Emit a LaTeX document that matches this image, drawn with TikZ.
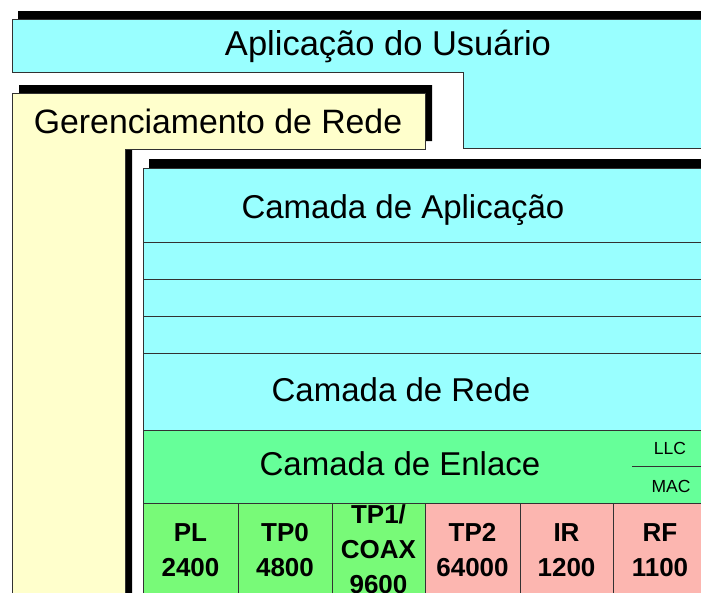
\documentclass[tikz,border=0pt]{standalone}
\usepackage{fontspec}
\setmainfont{Liberation Sans}
\definecolor{cyanbox}{RGB}{153,255,255}
\definecolor{yelbox}{RGB}{255,255,204}
\definecolor{greenband}{RGB}{102,255,153}
\definecolor{greencell}{RGB}{120,250,120}
\definecolor{pinkcell}{RGB}{252,182,176}
\definecolor{edge}{RGB}{50,50,50}
\tikzset{
  shade box/.style={fill=black},
  panel/.style={draw=edge, line width=1pt},
  title/.style={font=\fontsize{33}{36}\selectfont, inner sep=0pt, anchor=center},
  big title/.style={title, font=\fontsize{34.5}{38}\selectfont},
  cell/.style={font=\fontsize{26}{35}\selectfont\bfseries, align=center, inner sep=0pt, anchor=center},
  small/.style={font=\fontsize{17.5}{20}\selectfont, inner sep=0pt, anchor=center},
  grid/.style={draw=edge, line width=1pt}
}
\begin{document}
\begin{tikzpicture}[x=1pt,y=-1pt]
\clip (0,0) rectangle (701,592);
\fill[white] (0,0) rectangle (701,592);
% top L shape (Aplicacao do Usuario)
\fill[shade box] (18,11) -- (726,11) -- (726,140) -- (469,140) -- (469,64) -- (18,64) -- cycle;
\path[panel, fill=cyanbox] (12,19) -- (720,19) -- (720,148) -- (463,148) -- (463,72) -- (12,72) -- cycle;
\node[big title] (usuario) at (388,46) {Aplicação do Usuário};
% Gerenciamento L shape
\fill[shade box] (19,85) -- (432,85) -- (432,141) -- (132,141) -- (132,620) -- (19,620) -- cycle;
\path[panel, fill=yelbox] (12,93) -- (425,93) -- (425,149) -- (125,149) -- (125,620) -- (12,620) -- cycle;
\node[title, font=\fontsize{33.8}{37}\selectfont] (gerencia) at (218,121) {Gerenciamento de Rede};
% stack
\fill[shade box] (149,159) rectangle (730,620);
\path[panel, fill=cyanbox] (143,168) rectangle (730,620);
\draw[grid] (143,242) -- (730,242);
\draw[grid] (143,279) -- (730,279);
\draw[grid] (143,316) -- (730,316);
\draw[grid] (143,353) -- (730,353);
\path[grid, fill=greenband] (143,430) rectangle (730,503);
\path[grid, fill=greencell] (143,503) rectangle (425,620);
\path[grid, fill=pinkcell] (425,503) rectangle (730,620);
\draw[grid] (238,503) -- (238,620);
\draw[grid] (332,503) -- (332,620);
\draw[grid] (520,503) -- (520,620);
\draw[grid] (613,503) -- (613,620);
\draw[grid] (632,466) -- (730,466);
\node[title] (aplic) at (403,210) {Camada de Aplicação};
\node[title] (rede) at (401,390) {Camada de Rede};
\node[title] (enlace) at (400,464) {Camada de Enlace};
\node[small] (llc) at (670,448) {LLC};
\node[small] (mac) at (671,486) {MAC};
\node[cell] (pl) at (190.5,550.5) {PL\\2400};
\node[cell] (tp0) at (285,550.5) {TP0\\4800};
\node[cell] (tp1) at (378.5,549) {TP1/\\COAX\\9600};
\node[cell] (tp2) at (472.5,550.5) {TP2\\64000};
\node[cell] (ir) at (566.5,550.5) {IR\\1200};
\node[cell] (rf) at (660,550.5) {RF\\1100};
\end{tikzpicture}
\end{document}
